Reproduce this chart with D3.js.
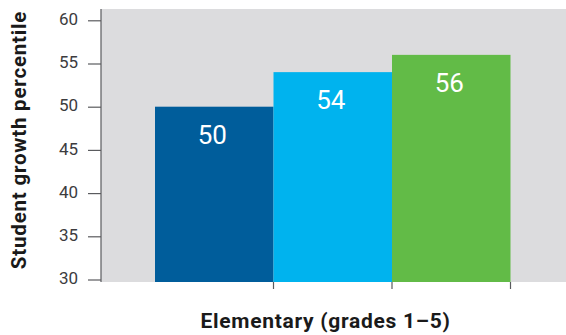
<!DOCTYPE html>
<html>
<head>
<meta charset="utf-8">
<script src="https://cdn.jsdelivr.net/npm/d3@7"></script>
<style>
  html, body { margin: 0; padding: 0; background: #ffffff; }
  svg { display: block; font-family: Roboto, "Noto Sans", sans-serif; }
</style>
</head>
<body>
<svg id="chart" width="566" height="335"></svg>
<script>
// Student growth percentile, elementary grades 1–5
const seriesNames = ["Group A", "Group B", "Group C"];
const seriesValues = [50, 54, 56];
const seriesColors = ["#005d9b", "#00b3ee", "#62bb47"];
const yTicks = [30, 35, 40, 45, 50, 55, 60];
const xTitle = "Elementary (grades 1\u20135)";
const yTitle = "Student growth percentile";

const svg = d3.select("#chart");

// plot panel
const panel = { left: 101, top: 9, right: 566, bottom: 282 };

const x = d3.scaleBand()
  .domain(seriesNames)
  .range([155, 510.5])
  .padding(0);

const y = d3.scaleLinear()
  .domain([30, 60])
  .range([279.5, 20.3]);

svg.append("rect")
  .attr("x", panel.left)
  .attr("y", panel.top)
  .attr("width", panel.right - panel.left)
  .attr("height", panel.bottom - panel.top)
  .attr("fill", "#dcdcde");

// bars
svg.append("g")
  .selectAll("rect")
  .data(seriesValues)
  .join("rect")
  .attr("x", (d, i) => x(seriesNames[i]))
  .attr("y", d => y(d))
  .attr("width", x.bandwidth())
  .attr("height", d => panel.bottom - y(d))
  .attr("fill", (d, i) => seriesColors[i]);

// value labels
svg.append("g")
  .selectAll("text")
  .data(seriesValues)
  .join("text")
  .attr("x", (d, i) => x(seriesNames[i]) + x.bandwidth() / 2 - 2)
  .attr("y", d => y(d) + 37)
  .attr("text-anchor", "middle")
  .attr("fill", "#ffffff")
  .attr("font-size", 26)
  .text(d => d);

// y axis
const yAxis = svg.append("g")
  .attr("transform", `translate(${panel.left},0)`)
  .call(d3.axisLeft(y).tickValues(yTicks).tickSize(13).tickPadding(10));
yAxis.select(".domain").remove();
yAxis.selectAll(".tick line").attr("stroke", "#5a5b5e").attr("stroke-width", 1.2);
yAxis.selectAll(".tick text")
  .attr("fill", "#3c3c3e")
  .attr("font-size", 17)
  .attr("font-family", "Roboto, sans-serif")
  .attr("dy", "0.25em");
svg.append("line")
  .attr("x1", panel.left).attr("x2", panel.left)
  .attr("y1", panel.top).attr("y2", panel.bottom)
  .attr("stroke", "#5a5b5e").attr("stroke-width", 1.2);

// x ticks at the right edge of each band
svg.append("g")
  .selectAll("line")
  .data(seriesNames)
  .join("line")
  .attr("x1", d => x(d) + x.bandwidth())
  .attr("x2", d => x(d) + x.bandwidth())
  .attr("y1", panel.bottom)
  .attr("y2", panel.bottom + 7)
  .attr("stroke", "#5a5b5e")
  .attr("stroke-width", 1.2);

// titles
svg.append("text")
  .attr("x", 325.5)
  .attr("y", 327.7)
  .attr("text-anchor", "middle")
  .attr("font-weight", "bold")
  .attr("font-size", 21)
  .attr("letter-spacing", 0.7)
  .attr("fill", "#1a1a1a")
  .text(xTitle);

svg.append("text")
  .attr("transform", "translate(26,140) rotate(-90)")
  .attr("text-anchor", "middle")
  .attr("font-weight", "bold")
  .attr("font-size", 20.5)
  .attr("letter-spacing", 0.8)
  .attr("fill", "#1a1a1a")
  .text(yTitle);
</script>
</body>
</html>
